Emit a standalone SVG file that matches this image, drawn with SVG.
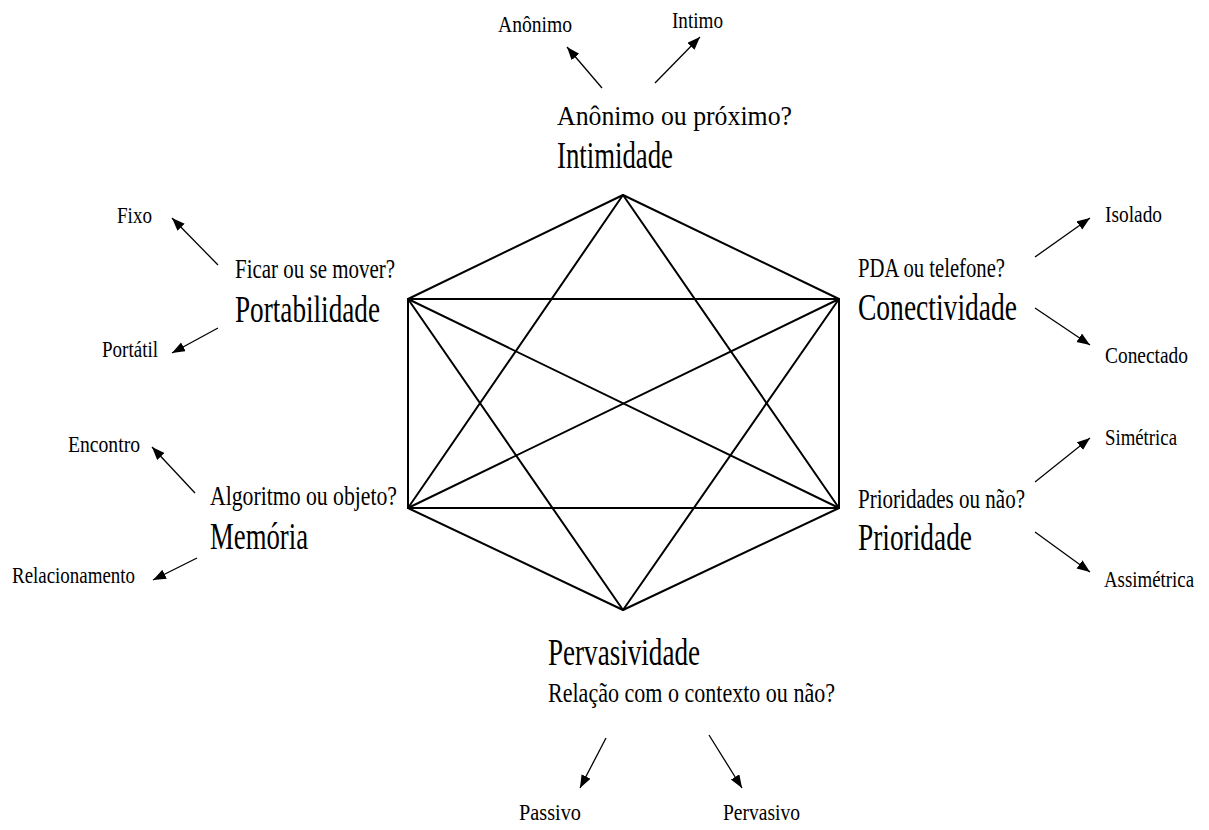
<svg xmlns="http://www.w3.org/2000/svg" width="1209" height="830" viewBox="0 0 1209 830">
<defs>
<style>
.s{font-size:24px}
.m{font-size:27px}
.l{font-size:37px}
.edge{stroke:#000;stroke-width:2;fill:none;stroke-linecap:round}
.arr{stroke:#000;stroke-width:1.3;fill:none;marker-end:url(#ah)}
</style>
<marker id="ah" markerUnits="userSpaceOnUse" markerWidth="14" markerHeight="11" refX="13" refY="5" orient="auto">
<path d="M0,0 L13,5 L0,10 z" fill="#000"/>
</marker>
</defs>
<rect width="1209" height="830" fill="#fff"/>
<g id="connectors">
<line class="edge" x1="623" y1="195" x2="408" y2="299"/>
<line class="edge" x1="623" y1="195" x2="839" y2="299"/>
<line class="edge" x1="623" y1="195" x2="408" y2="508"/>
<line class="edge" x1="623" y1="195" x2="839" y2="508"/>
<line class="edge" x1="408" y1="299" x2="839" y2="299"/>
<line class="edge" x1="408" y1="299" x2="408" y2="508"/>
<line class="edge" x1="408" y1="299" x2="839" y2="508"/>
<line class="edge" x1="408" y1="299" x2="623" y2="610"/>
<line class="edge" x1="839" y1="299" x2="839" y2="508"/>
<line class="edge" x1="839" y1="299" x2="408" y2="508"/>
<line class="edge" x1="839" y1="299" x2="623" y2="610"/>
<line class="edge" x1="408" y1="508" x2="839" y2="508"/>
<line class="edge" x1="408" y1="508" x2="623" y2="610"/>
<line class="edge" x1="839" y1="508" x2="623" y2="610"/>
<line class="arr" x1="602" y1="88" x2="567" y2="47"/>
<line class="arr" x1="655" y1="83" x2="700" y2="37"/>
<line class="arr" x1="218" y1="265" x2="172" y2="218"/>
<line class="arr" x1="218" y1="328" x2="172" y2="353"/>
<line class="arr" x1="195" y1="493" x2="152" y2="447"/>
<line class="arr" x1="197" y1="558" x2="153" y2="580"/>
<line class="arr" x1="1035" y1="257" x2="1090" y2="218"/>
<line class="arr" x1="1035" y1="308" x2="1090" y2="345"/>
<line class="arr" x1="1035" y1="482" x2="1090" y2="438"/>
<line class="arr" x1="1035" y1="532" x2="1090" y2="572"/>
<line class="arr" x1="606" y1="738" x2="580" y2="788"/>
<line class="arr" x1="709" y1="735" x2="742" y2="788"/>
</g>
<g id="labels" font-family="Liberation Serif, Times New Roman, serif" fill="#000">
<g id="intimidade">
<text class="l" x="557" y="168" textLength="116" lengthAdjust="spacingAndGlyphs">Intimidade</text>
<text class="m" x="557" y="125" textLength="235" lengthAdjust="spacingAndGlyphs">Anônimo ou próximo?</text>
<text class="s" x="498" y="32" textLength="74" lengthAdjust="spacingAndGlyphs">Anônimo</text>
<text class="s" x="672" y="28" textLength="51" lengthAdjust="spacingAndGlyphs">Intimo</text>
</g>
<g id="portabilidade">
<text class="l" x="235" y="322" textLength="145" lengthAdjust="spacingAndGlyphs">Portabilidade</text>
<text class="m" x="235" y="278" textLength="160" lengthAdjust="spacingAndGlyphs">Ficar ou se mover?</text>
<text class="s" x="117" y="223" textLength="35" lengthAdjust="spacingAndGlyphs">Fixo</text>
<text class="s" x="102" y="357" textLength="56" lengthAdjust="spacingAndGlyphs">Portátil</text>
</g>
<g id="memoria">
<text class="l" x="210" y="549" textLength="98" lengthAdjust="spacingAndGlyphs">Memória</text>
<text class="m" x="210" y="505" textLength="187" lengthAdjust="spacingAndGlyphs">Algoritmo ou objeto?</text>
<text class="s" x="68" y="452" textLength="72" lengthAdjust="spacingAndGlyphs">Encontro</text>
<text class="s" x="12" y="583" textLength="123" lengthAdjust="spacingAndGlyphs">Relacionamento</text>
</g>
<g id="conectividade">
<text class="l" x="858" y="320" textLength="159" lengthAdjust="spacingAndGlyphs">Conectividade</text>
<text class="m" x="858" y="277" textLength="147" lengthAdjust="spacingAndGlyphs">PDA ou telefone?</text>
<text class="s" x="1105" y="222" textLength="57" lengthAdjust="spacingAndGlyphs">Isolado</text>
<text class="s" x="1105" y="363" textLength="83" lengthAdjust="spacingAndGlyphs">Conectado</text>
</g>
<g id="prioridade">
<text class="l" x="858" y="550" textLength="114" lengthAdjust="spacingAndGlyphs">Prioridade</text>
<text class="m" x="858" y="508" textLength="167" lengthAdjust="spacingAndGlyphs">Prioridades ou não?</text>
<text class="s" x="1105" y="445" textLength="72" lengthAdjust="spacingAndGlyphs">Simétrica</text>
<text class="s" x="1104" y="587" textLength="90" lengthAdjust="spacingAndGlyphs">Assimétrica</text>
</g>
<g id="pervasividade">
<text class="l" x="548" y="665" textLength="152" lengthAdjust="spacingAndGlyphs">Pervasividade</text>
<text class="m" x="548" y="702" textLength="287" lengthAdjust="spacingAndGlyphs">Relação com o contexto ou não?</text>
<text class="s" x="519" y="820" textLength="62" lengthAdjust="spacingAndGlyphs">Passivo</text>
<text class="s" x="723" y="820" textLength="77" lengthAdjust="spacingAndGlyphs">Pervasivo</text>
</g>
</g>
</svg>
